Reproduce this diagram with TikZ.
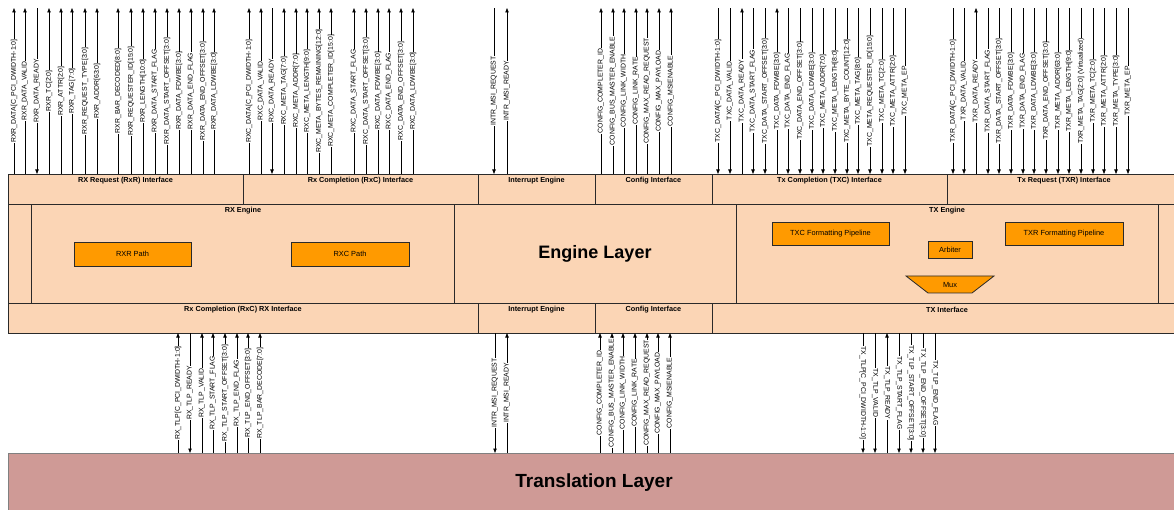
\documentclass[tikz,border=0pt]{standalone}
\usepackage{fontspec}
\setmainfont{Liberation Sans}
\usetikzlibrary{arrows.meta}
\definecolor{peach}{HTML}{FBD5B5}
\definecolor{orng}{HTML}{FF9A00}
\definecolor{trans}{HTML}{CF9A96}
\definecolor{edge}{HTML}{2A2A2A}
\begin{document}
\begin{tikzpicture}[x=1pt,y=-1pt,
  sig/.style={line width=0.7pt, draw=black},
  sgu/.style={-{Triangle[length=4.5pt,width=3.4pt]}},
  sgd/.style={{Triangle[length=4.5pt,width=3.4pt]}-},
  tlab/.style={fill=white, inner sep=0.5pt, font=\fontsize{6.9}{7}\selectfont, rotate=90},
  tlabr/.style={fill=white, inner sep=0.5pt, font=\fontsize{6.9}{7}\selectfont, rotate=-90},
  box/.style={draw=edge, line width=0.8pt},
  boxlab/.style={font=\bfseries\fontsize{7.3}{8}\selectfont, inner sep=0pt},
  pbox/.style={draw=edge, line width=0.8pt, fill=orng, font=\fontsize{7.4}{8}\selectfont, inner sep=0pt}]
\useasboundingbox (0,0) rectangle (1174,510);
\clip (0,0) rectangle (1174,510);

% Translation layer
\draw[draw=gray, line width=0.8pt, fill=trans] (8,453) rectangle (1190,530);
\node[font=\bfseries\fontsize{19}{22}\selectfont] (trl) at (594,483) {Translation Layer};

% Engine layer
\draw[box, fill=peach] (8,174) rectangle (1190,333);
% top interface row
\draw[box] (8,174) rectangle (243,204);
\draw[box] (243,174) rectangle (478,204);
\draw[box] (478,174) rectangle (595,204);
\draw[box] (595,174) rectangle (712,204);
\draw[box] (712,174) rectangle (947,204);
\draw[box] (947,174) rectangle (1190,204);
\node[boxlab] (rxrif) at (125.5,180.5) {RX Request (RxR) Interface};
\node[boxlab] (rxcif) at (360.5,180.5) {Rx Completion (RxC) Interface};
\node[boxlab] (intt) at (536.5,180.5) {Interrupt Engine};
\node[boxlab] (cfgt) at (653.5,180.5) {Config Interface};
\node[boxlab] (txcif) at (829.5,180.5) {Tx Completion (TXC) Interface};
\node[boxlab] (txrif) at (1064,180.5) {Tx Request (TXR) Interface};
% engines
\draw[box] (31,204) rectangle (454,303);
\draw[box] (736,204) rectangle (1158,303);
\node[boxlab] (rxeng) at (243,210.5) {RX Engine};
\node[boxlab] (txeng) at (947,210.5) {TX Engine};
\node[font=\bfseries\fontsize{18}{20}\selectfont] (engl) at (595,254) {Engine Layer};
\node[pbox, minimum width=117pt, minimum height=24pt] (rxrp) at (132.5,254) {RXR Path};
\node[pbox, minimum width=118pt, minimum height=24pt] (rxcp) at (350,254) {RXC Path};
\node[pbox, minimum width=117pt, minimum height=23pt] (txcp) at (830.5,233.5) {TXC Formatting Pipeline};
\node[pbox, minimum width=118pt, minimum height=23pt] (txrp) at (1064,233.5) {TXR Formatting Pipeline};
\node[pbox, minimum width=44pt, minimum height=17pt] (arb) at (950,249.5) {Arbiter};
\draw[box, fill=orng] (906,276) -- (994,276) -- (972,293) -- (928,293) -- cycle;
\node[font=\fontsize{7.4}{8}\selectfont, inner sep=0pt] (mux) at (950,285) {Mux};
% bottom interface row
\draw[box] (8,303) rectangle (478,333);
\draw[box] (478,303) rectangle (595,333);
\draw[box] (595,303) rectangle (712,333);
\draw[box] (712,303) rectangle (1190,333);
\node[boxlab] (rxcrx) at (243,309.5) {Rx Completion (RxC) RX Interface};
\node[boxlab] (intb) at (536.5,309.5) {Interrupt Engine};
\node[boxlab] (cfgb) at (653.5,309.5) {Config Interface};
\node[boxlab] (txif) at (947,309.5) {TX Interface};

% top signals
\foreach \x/\l/\d in {
14/RXR\_DATA[C\_PCI\_DWIDTH-1:0]/sgu,
25/RXR\_DATA\_VALID/sgu,
37/RXR\_DATA\_READY/sgd,
49/RXR\_TC[2:0]/sgu,
61/RXR\_ATTR[2:0]/sgu,
72/RXR\_TAG[7:0]/sgu,
85/RXR\_REQUEST\_TYPE[3:0]/sgu,
97/RXR\_ADDR[63:0]/sgu,
118/RXR\_BAR\_DECODED[8:0]/sgu,
131/RXR\_REQUESTER\_ID[15:0]/sgu,
143/RXR\_LENGTH[10:0]/sgu,
155/RXR\_DATA\_START\_FLAG/sgu,
167/RXR\_DATA\_START\_OFFSET[3:0]/sgu,
179/RXR\_DATA\_FDWBE[3:0]/sgu,
191/RXR\_DATA\_END\_FLAG/sgu,
203/RXR\_DATA\_END\_OFFSET[3:0]/sgu,
214/RXR\_DATA\_LDWBE[3:0]/sgu,
249/RXC\_DATA[C\_PCI\_DWIDTH-1:0]/sgu,
261/RXC\_DATA\_VALID/sgu,
272/RXC\_DATA\_READY/sgd,
284/RXC\_META\_TAG[7:0]/sgu,
296/RXC\_META\_ADDR[7:0]/sgu,
307/RXC\_META\_LENGTH[9:0]/sgu,
319/RXC\_META\_BYTES\_REMAINING[12:0]/sgu,
331/RXC\_META\_COMPLETER\_ID[15:0]/sgu,
354/RXC\_DATA\_START\_FLAG/sgu,
366/RXC\_DATA\_START\_OFFSET[3:0]/sgu,
378/RXC\_DATA\_FDWBE[3:0]/sgu,
389/RXC\_DATA\_END\_FLAG/sgu,
401/RXC\_DATA\_END\_OFFSET[3:0]/sgu,
413/RXC\_DATA\_LDWBE[3:0]/sgu,
494/INTR\_MSI\_REQUEST/sgd,
507/INTR\_MSI\_READY/sgu,
601/CONFIG\_COMPLETER\_ID/sgu,
613/CONFIG\_BUS\_MASTER\_ENABLE/sgu,
624/CONFIG\_LINK\_WIDTH/sgu,
636/CONFIG\_LINK\_RATE/sgu,
647/CONFIG\_MAX\_READ\_REQUEST/sgu,
659/CONFIG\_MAX\_PAYLOAD/sgu,
671/CONFIG\_MSIENABLE/sgu,
718/TXC\_DATA[C\_PCI\_DWIDTH-1:0]/sgd,
730/TXC\_DATA\_VALID/sgd,
742/TXC\_DATA\_READY/sgu,
753/TXC\_DATA\_START\_FLAG/sgd,
765/TXC\_DATA\_START\_OFFSET[3:0]/sgd,
777/TXC\_DATA\_FDWBE[3:0]/sgu,
788/TXC\_DATA\_END\_FLAG/sgd,
800/TXC\_DATA\_END\_OFFSET[3:0]/sgd,
812/TXC\_DATA\_LDWBE[3:0]/sgd,
823/TXC\_META\_ADDR[7:0]/sgd,
835/TXC\_META\_LENGTH[8:0]/sgd,
847/TXC\_META\_BYTE\_COUNT[12:0]/sgd,
858/TXC\_META\_TAG[8:0]/sgd,
870/TXC\_META\_REQUESTER\_ID[15:0]/sgd,
882/TXC\_META\_TC[2:0]/sgd,
893/TXC\_META\_ATTR[2:0]/sgd,
905/TXC\_META\_EP/sgd,
953/TXR\_DATA[C\_PCI\_DWIDTH-1:0]/sgd,
964/TXR\_DATA\_VALID/sgd,
976/TXR\_DATA\_READY/sgu,
988/TXR\_DATA\_START\_FLAG/sgd,
999/TXR\_DATA\_START\_OFFSET[3:0]/sgd,
1011/TXR\_DATA\_FDWBE[3:0]/sgd,
1023/TXR\_DATA\_END\_FLAG/sgd,
1034/TXR\_DATA\_LDWBE[3:0]/sgd,
1046/TXR\_DATA\_END\_OFFSET[3:0]/sgd,
1058/TXR\_META\_ADDR[63:0]/sgd,
1069/TXR\_META\_LENGTH[9:0]/sgd,
1081/TXR\_META\_TAG[2:0] (Virtualized)/sgd,
1093/TXR\_META\_TC[2:0]/sgd,
1104/TXR\_META\_ATTR[2:0]/sgd,
1116/TXR\_META\_TYPE[3:0]/sgd,
1128/TXR\_META\_EP/sgd}{
  \coordinate (ta\x) at (\x,8);
  \coordinate (tb\x) at (\x,174);
  \draw[sig,\d] (tb\x) -- node[tlab] (lt\x) {\l} (ta\x);
}

% bottom signals
\foreach \x/\l/\d in {
178/RX\_TLP[C\_PCI\_DWIDTH-1:0]/sgu,
190/RX\_TLP\_READY/sgd,
202/RX\_TLP\_VALID/sgu,
213/RX\_TLP\_START\_FLAG/sgu,
225/RX\_TLP\_START\_OFFSET[3:0]/sgu,
237/RX\_TLP\_END\_FLAG/sgu,
248/RX\_TLP\_END\_OFFSET[3:0]/sgu,
260/RX\_TLP\_BAR\_DECODE[7:0]/sgu,
495/INTR\_MSI\_REQUEST/sgd,
507/INTR\_MSI\_READY/sgu,
600/CONFIG\_COMPLETER\_ID/sgu,
612/CONFIG\_BUS\_MASTER\_ENABLE/sgu,
623/CONFIG\_LINK\_WIDTH/sgu,
635/CONFIG\_LINK\_RATE/sgu,
647/CONFIG\_MAX\_READ\_REQUEST/sgu,
658/CONFIG\_MAX\_PAYLOAD/sgu,
670/CONFIG\_MSIENABLE/sgu}{
  \coordinate (ba\x) at (\x,333);
  \coordinate (bb\x) at (\x,453);
  \draw[sig,\d] (bb\x) -- node[tlab] (lb\x) {\l} (ba\x);
}
\foreach \x/\l/\d in {
863/TX\_TLP[C\_PCI\_DWIDTH-1:0]/sgd,
875/TX\_TLP\_VALID/sgd,
887/TX\_TLP\_READY/sgu,
899/TX\_TLP\_START\_FLAG/sgd,
911/TX\_TLP\_START\_OFFSET[3:0]/sgd,
923/TX\_TLP\_END\_OFFSET[3:0]/sgd,
935/TX\_TLP\_END\_FLAG/sgd}{
  \coordinate (ba\x) at (\x,333);
  \coordinate (bb\x) at (\x,453);
  \draw[sig,\d] (bb\x) -- node[tlabr] (lb\x) {\l} (ba\x);
}
\end{tikzpicture}
\end{document}
